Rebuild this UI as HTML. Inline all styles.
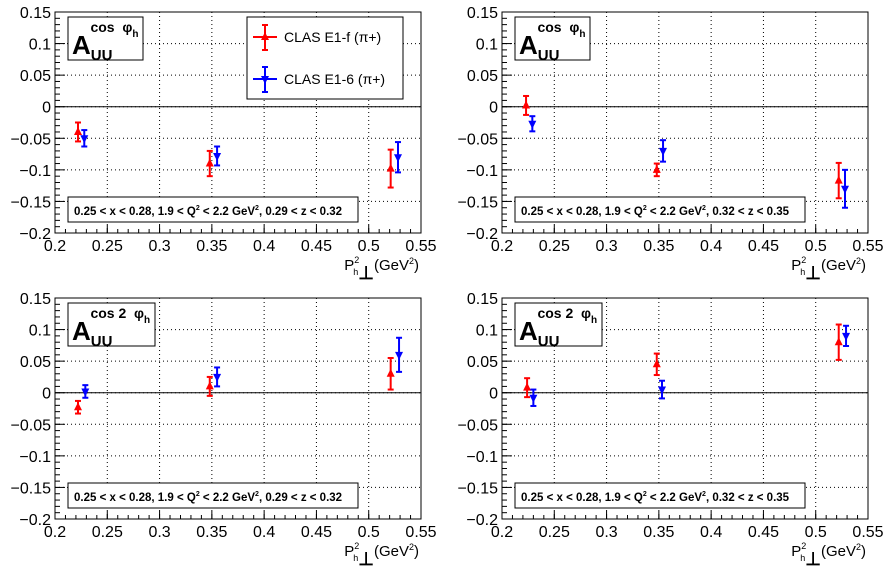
<!DOCTYPE html>
<html><head><meta charset="utf-8"><style>
body{margin:0;background:#fff;}
svg{display:block;font-family:"Liberation Sans",sans-serif;}
</style></head><body>
<svg id="c" width="896" height="572"></svg>
<script>
const xTicks=[0.2,0.25,0.3,0.35,0.4,0.45,0.5,0.55];
const yTicks=[0.15,0.1,0.05,0,-0.05,-0.1,-0.15,-0.2];
const panelTitles=["cos  \u03C6","cos  \u03C6","cos 2  \u03C6","cos 2  \u03C6"];
const panelRanges=["0.29 < z < 0.32","0.32 < z < 0.35","0.29 < z < 0.32","0.32 < z < 0.35"];
const redX=[[0.222,0.348,0.521],[0.223,0.348,0.522],[0.222,0.348,0.521],[0.224,0.348,0.522]];
const redY=[[-0.04,-0.09,-0.098],[0.002,-0.1,-0.117],[-0.023,0.01,0.03],[0.008,0.045,0.08]];
const redErr=[[0.015,0.02,0.03],[0.015,0.01,0.028],[0.01,0.015,0.025],[0.015,0.017,0.028]];
const blueX=[[0.228,0.355,0.528],[0.229,0.354,0.528],[0.229,0.355,0.529],[0.23,0.353,0.529]];
const blueY=[[-0.05,-0.078,-0.08],[-0.027,-0.07,-0.13],[0.002,0.025,0.06],[-0.008,0.005,0.09]];
const blueErr=[[0.013,0.015,0.024],[0.012,0.017,0.03],[0.01,0.015,0.027],[0.013,0.014,0.016]];

const NS="http://www.w3.org/2000/svg";
const svg=document.getElementById('c');
function mk(tag,attrs,parent,text){const e=document.createElementNS(NS,tag);for(const k in attrs)e.setAttribute(k,attrs[k]);if(text!==undefined)e.textContent=text;parent.appendChild(e);return e;}
const frames=[[55,12],[502,12],[55,298],[502,298]];
const W=366,H=221;
frames.forEach((f,p)=>{
  const [L,T]=f;
  const g=mk('g',{},svg);
  
  
  const sx=v=>L+(v-0.2)/0.35*W;
  const sy=v=>T+(0.15-v)/0.35*H;
  xTicks.forEach(t=>{const l=mk('line',{x1:sx(t),x2:sx(t),y1:T,y2:T+H,stroke:'#000','stroke-width':1,'stroke-dasharray':'1,3'},g);
    
    const tx=mk('text',{x:sx(t),y:T+H+18,'text-anchor':'middle','font-size':16},g,String(t));
    
    mk('line',{x1:sx(t),x2:sx(t),y1:T+H,y2:T+H-8,stroke:'#000'},g);});
  for(let i=0;i<=35;i++){const xv=L+i*W/35;mk('line',{x1:xv,x2:xv,y1:T+H,y2:T+H-4,stroke:'#000'},g);}
  yTicks.forEach(t=>{const l=mk('line',{x1:L,x2:L+W,y1:sy(t),y2:sy(t),stroke:'#000','stroke-width':1,'stroke-dasharray':'1,3'},g);
    
    const lbl=t===0?'0':String(t).replace('-','\u2212');
    const tx=mk('text',{x:L-4,y:sy(t)+6,'text-anchor':'end','font-size':16},g,lbl);
    
    mk('line',{x1:L,x2:L+10,y1:sy(t),y2:sy(t),stroke:'#000'},g);});
  for(let i=0;i<=35;i++){const yv=T+i*H/35;mk('line',{x1:L,x2:L+5,y1:yv,y2:yv,stroke:'#000'},g);}
  mk('line',{x1:L,x2:L+W,y1:sy(0),y2:sy(0),stroke:'#000','stroke-width':1},g);
  const fr=mk('rect',{x:L,y:T,width:W,height:H,fill:'none',stroke:'#000'},g);
  
  const at=mk('text',{x:L+W-2,y:T+H+37,'text-anchor':'end','font-size':15},g);
  
  at.innerHTML='P<tspan font-size="9" dy="-7">2</tspan><tspan font-size="9" dx="-6" dy="12">h</tspan><tspan font-size="18" font-weight="bold" dy="4">\u22A5</tspan><tspan dy="-9">(GeV</tspan><tspan font-size="9" dy="-6">2</tspan><tspan dy="6">)</tspan>';
  const tb=mk('rect',{x:L+13,y:T+5,width:p<2?75:87,height:43,fill:'#fff',stroke:'#000'},g);
  
  const tt=mk('text',{x:L+17,y:T+42,'font-weight':'bold'},g);
  
  tt.innerHTML='<tspan font-size="26">A</tspan><tspan font-size="15" dy="6">UU</tspan><tspan font-size="14" dx="-22" dy="-28" xml:space="preserve">'+panelTitles[p]+'</tspan><tspan font-size="10" dy="5">h</tspan>';
  const ib=mk('rect',{x:L+13,y:T+185,width:290,height:25,fill:'#fff',stroke:'#000'},g);
  
  const it=mk('text',{x:L+19,y:T+203,'font-size':11.5,'font-weight':'bold'},g);
  
  it.innerHTML='0.25 &lt; x &lt; 0.28, 1.9 &lt; Q<tspan font-size="7" dy="-5">2</tspan><tspan dy="5"> &lt; 2.2 GeV</tspan><tspan font-size="7" dy="-5">2</tspan><tspan dy="5">, '+panelRanges[p].replace(/</g,'&lt;')+'</tspan>';
  function series(xs,ys,es,col,up,name){
    xs.forEach((xv,i)=>{
      const cx=sx(xv),cy=sy(ys[i]),y1=sy(ys[i]+es[i]),y2=sy(ys[i]-es[i]);
      const s=mk('g',{},g);
      
      mk('line',{x1:cx,x2:cx,y1:y1,y2:y2,stroke:col,'stroke-width':2},s);
      mk('line',{x1:cx-3,x2:cx+3,y1:y1,y2:y1,stroke:col,'stroke-width':2},s);
      mk('line',{x1:cx-3,x2:cx+3,y1:y2,y2:y2,stroke:col,'stroke-width':2},s);
      const pts=up?`${cx},${cy-5} ${cx-4},${cy+3} ${cx+4},${cy+3}`:`${cx},${cy+5} ${cx-4},${cy-3} ${cx+4},${cy-3}`;
      mk('polygon',{points:pts,fill:col},s);
    });
  }
  series(redX[p],redY[p],redErr[p],'#f00',true,'clas-e1f');
  series(blueX[p],blueY[p],blueErr[p],'#00f',false,'clas-e16');
  if(p===0){
    const lg=mk('g',{},g);
    
    mk('rect',{x:247,y:17,width:156,height:82,fill:'#fff',stroke:'#000'},lg);
    [[37,'#f00','CLAS E1-f (\u03C0+)',true],[79,'#00f','CLAS E1-6 (\u03C0+)',false]].forEach(e=>{
      const [y,col,txt,up]=e;
      const en=mk('g',{},lg);
      
      mk('line',{x1:253,x2:277,y1:y,y2:y,stroke:col,'stroke-width':2},en);
      mk('line',{x1:265,x2:265,y1:y-12,y2:y+13,stroke:col,'stroke-width':2},en);
      mk('line',{x1:262,x2:268,y1:y-12,y2:y-12,stroke:col,'stroke-width':2},en);
      mk('line',{x1:262,x2:268,y1:y+13,y2:y+13,stroke:col,'stroke-width':2},en);
      mk('polygon',{points:up?`265,${y-5} 261,${y+3} 269,${y+3}`:`265,${y+5} 261,${y-3} 269,${y-3}`,fill:col},en);
      mk('text',{x:284,y:y+5,'font-size':14},en,txt);
    });
  }
});
</script>
</body></html>
